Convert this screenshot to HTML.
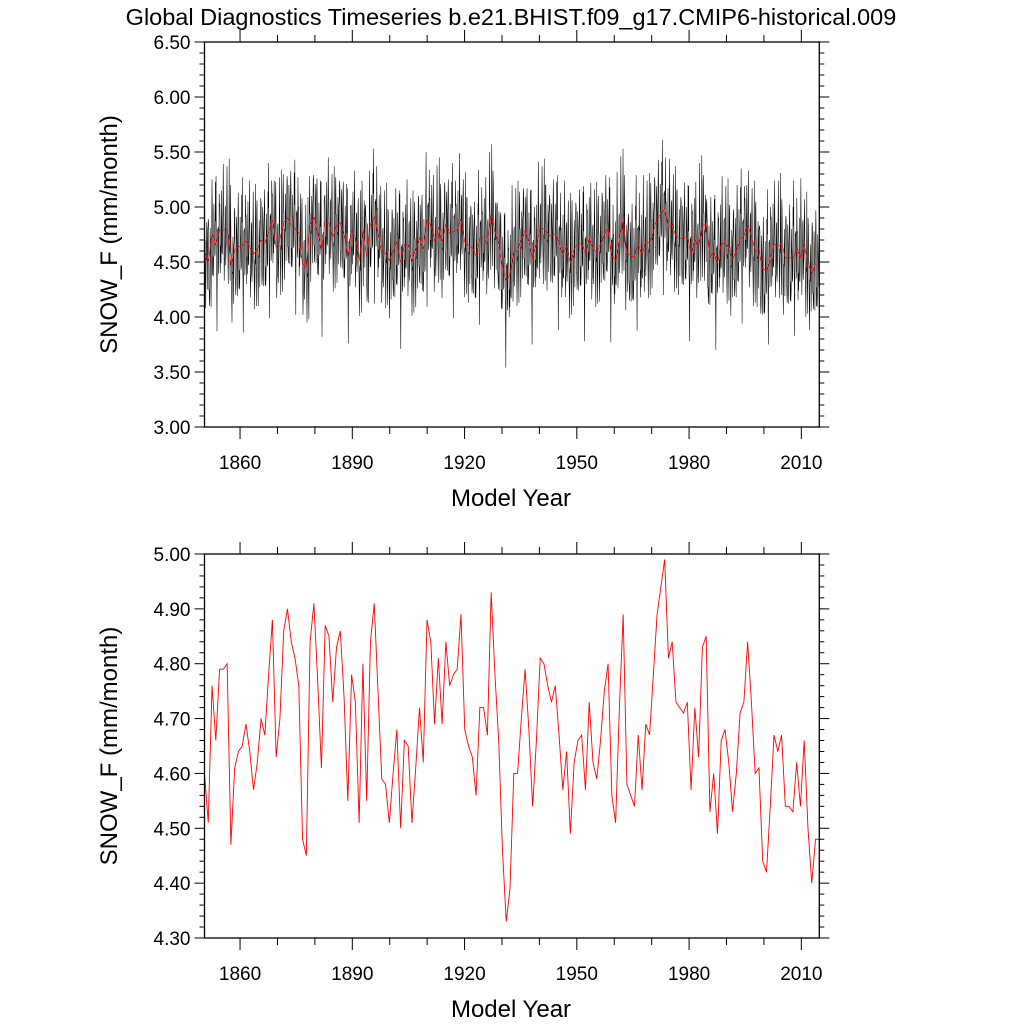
<!DOCTYPE html>
<html><head><meta charset="utf-8"><style>
html,body{margin:0;padding:0;background:#fff;}
svg text{font-family:"Liberation Sans",sans-serif;fill:#000;}
</style></head><body>
<svg id="chart" width="1024" height="1024" viewBox="0 0 1024 1024" xmlns="http://www.w3.org/2000/svg">
<text x="511" y="25" font-size="23.5" text-anchor="middle">Global Diagnostics Timeseries b.e21.BHIST.f09_g17.CMIP6-historical.009</text>
<g id="top"></g>
<g id="bot"></g>
</svg>
<script>
const startYear = 1850;
const annualValues = [4.60,4.51,4.76,4.66,4.79,4.79,4.80,4.47,4.61,4.64,4.65,4.69,4.64,4.57,4.62,4.70,4.67,4.78,4.88,4.63,4.70,4.86,4.90,4.84,4.81,4.76,4.48,4.45,4.84,4.91,4.77,4.61,4.87,4.85,4.73,4.83,4.86,4.74,4.55,4.78,4.73,4.51,4.80,4.55,4.84,4.91,4.75,4.59,4.58,4.51,4.60,4.68,4.50,4.66,4.65,4.51,
4.61,4.72,4.62,4.88,4.84,4.69,4.81,4.69,4.84,4.76,4.78,4.79,4.89,4.68,4.65,4.63,4.56,4.72,4.72,4.67,4.93,4.78,4.66,4.46,4.33,4.39,4.60,4.60,4.70,4.79,4.68,4.54,4.66,4.81,4.80,4.76,4.73,4.76,4.67,4.57,4.64,4.49,4.62,4.66,4.67,4.57,4.73,4.62,4.59,4.66,4.75,4.80,4.56,4.51,4.72,4.89,
4.58,4.56,4.54,4.67,4.57,4.69,4.67,4.78,4.89,4.94,4.99,4.81,4.84,4.73,4.72,4.71,4.73,4.57,4.72,4.63,4.83,4.85,4.53,4.60,4.49,4.66,4.68,4.62,4.53,4.60,4.71,4.73,4.84,4.73,4.60,4.61,4.44,4.42,4.54,4.67,4.64,4.67,4.54,4.54,4.53,4.62,4.54,4.66,4.50,4.40,4.48,4.48];
const seasonalAnomaly = [0.38,0.22,-0.08,-0.34,-0.44,-0.2,0.08,0.24,-0.02,-0.3,-0.12,0.32];
const monthlyNoise = [0.06,-0.12,0.18,0.03,-0.08,0.14,-0.16,0.02,0.1,-0.05,0.3,-0.1,0.0,0.12,-0.18,0.08,0.03,-0.14,0.22,-0.04,0.07,-0.12,0.16,-0.06,0.11,-0.02,-0.3,0.13,0.05,-0.09,0.19,-0.13,0.02,0.09,-0.06,0.15,-0.17,0.4,-0.03,0.05,-0.35,0.08];
const xTicks = [1860,1890,1920,1950,1980,2010];
const topYTicks = ["3.00","3.50","4.00","4.50","5.00","5.50","6.00","6.50"];
const botYTicks = ["4.30","4.40","4.50","4.60","4.70","4.80","4.90","5.00"];

const NS="http://www.w3.org/2000/svg";
function mk(parent,tag,attrs){const e=document.createElementNS(NS,tag);for(const k in attrs)e.setAttribute(k,attrs[k]);parent.appendChild(e);return e;}

const X0=204.5,X1=819.3,YR0=1850.5,YR1=2014.8;
function xs(yr){return X0+(yr-YR0)/(YR1-YR0)*(X1-X0);}
const N=annualValues.length;
function yrPos(i){return YR0+i*(YR1-YR0)/(N-1);}

function panel(g,top,bot,ymin,ymax,majStep,minStep,yTickLabels,prefix){
  const ys=v=>bot-(v-ymin)/(ymax-ymin)*(bot-top);
  const clipId=prefix+"-clip";
  const cp=mk(g,"clipPath",{id:clipId});mk(cp,"rect",{x:X0,y:top,width:X1-X0,height:bot-top});
  const dg=mk(g,"g",{"clip-path":"url(#"+clipId+")"});
  if(prefix==="top"){
    let d="";
    const step=(YR1-YR0)/(N*12-1);
    for(let i=0;i<N;i++){for(let m=0;m<12;m++){
      const k=i*12+m;
      const v=annualValues[i]+seasonalAnomaly[m]+monthlyNoise[k%monthlyNoise.length];
      const yr=YR0+k*step;
      d+=(k?"L":"M")+xs(yr).toFixed(2)+","+ys(v).toFixed(2);
    }}
    const ml=mk(dg,"path",{d:d,fill:"none",stroke:"#000","stroke-width":"0.55"});
    
    
  }
  let d2="";
  annualValues.forEach((v,i)=>{d2+=(i?"L":"M")+xs(yrPos(i)).toFixed(2)+","+ys(v).toFixed(2);});
  const al=mk(dg,"path",{d:d2,fill:"none",stroke:"#f00","stroke-width":prefix==="top"?"0.7":"0.9"});
  
  
  const fr=mk(g,"rect",{x:X0,y:top,width:X1-X0,height:bot-top,fill:"none",stroke:"#000","stroke-width":"1.3"});
  
  
  for(let yr=1860;yr<=2014;yr+=10){
    const x=xs(yr),maj=(yr-1860)%30===0,L=maj?12:7;
    mk(g,"line",{x1:x,x2:x,y1:top,y2:top-L,stroke:"#000","stroke-width":"1"});
    mk(g,"line",{x1:x,x2:x,y1:bot,y2:bot+L,stroke:"#000","stroke-width":"1"});
  }
  xTicks.forEach(yr=>{
    const t=mk(g,"text",{x:xs(yr),y:bot+42,"font-size":"19","text-anchor":"middle"});t.textContent=yr;
    
    
  });
  const n=Math.round((ymax-ymin)/minStep);
  for(let i=0;i<=n;i++){
    const v=ymin+i*minStep,y=ys(v),maj=i%Math.round(majStep/minStep)===0,L=maj?10:5;
    mk(g,"line",{x1:X0,x2:X0-L,y1:y,y2:y,stroke:"#000","stroke-width":"1"});
    mk(g,"line",{x1:X1,x2:X1+L,y1:y,y2:y,stroke:"#000","stroke-width":"1"});
  }
  yTickLabels.forEach(s=>{
    const t=mk(g,"text",{x:X0-14,y:ys(parseFloat(s))+7,"font-size":"19","text-anchor":"end"});t.textContent=s;
    
    
  });
  const xt=mk(g,"text",{x:511,y:bot+79,"font-size":"24","text-anchor":"middle"});xt.textContent="Model Year";
  
  
  const cy=(top+bot)/2;
  const yt=mk(g,"text",{x:117,y:cy,"font-size":"24","text-anchor":"middle",transform:"rotate(-90 117 "+cy+")"});yt.textContent="SNOW_F (mm/month)";
  
  
}
panel(document.getElementById("top"),42,427,3.0,6.5,0.5,0.1,topYTicks,"top");
panel(document.getElementById("bot"),554,938,4.3,5.0,0.1,0.02,botYTicks,"bot");
</script>
</body></html>
